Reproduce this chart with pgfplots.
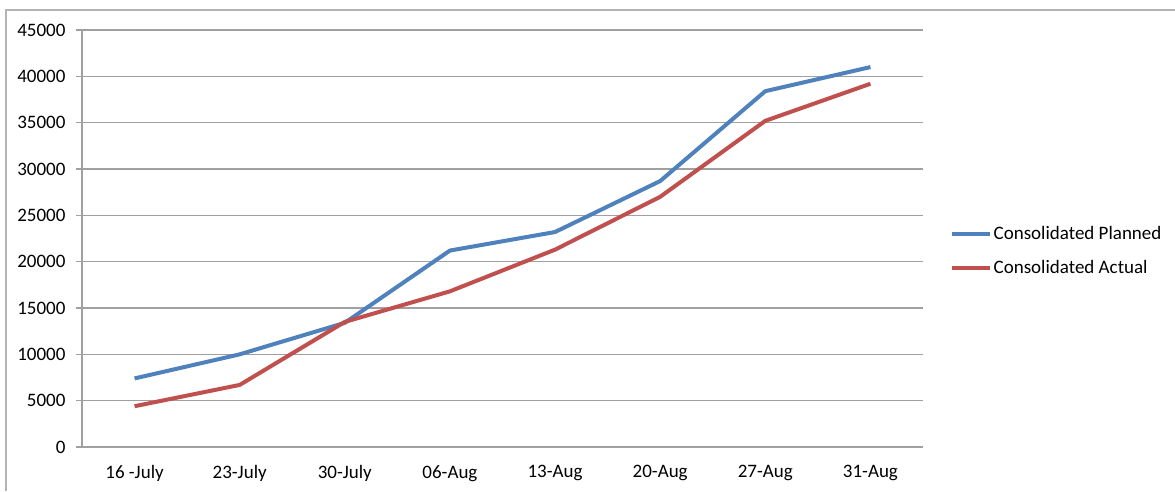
\documentclass[border=0pt]{standalone}
\usepackage{fontspec}
\setmainfont{Carlito}
\usepackage{pgfplots}
\pgfplotsset{compat=1.18}
\definecolor{cblue}{HTML}{4F81BD}
\definecolor{cred}{HTML}{C0504D}
\definecolor{cgrid}{HTML}{A0A0A0}
\begin{document}
\fontsize{19}{23}\selectfont
\begin{tikzpicture}
\useasboundingbox (0,0) rectangle (1175pt,-491pt);
\draw[cgrid!80, line width=1.5pt] (6pt,-491pt) -- (6pt,-10pt) -- (1175pt,-10pt);
\begin{axis}[
  at={(82pt,-447pt)}, anchor=south west,
  scale only axis, width=841pt, height=417pt,
  xmin=-0.5, xmax=7.5, ymin=0, ymax=45000,
  axis lines=left, axis line style={-, cgrid, line width=1.2pt},
  xtick={0,...,7},
  xticklabels={16 -July,23-July,30-July,06-Aug,13-Aug,20-Aug,27-Aug,31-Aug},
  minor xtick={-0.5,0.5,...,7.5},
  major tick length=6pt,
  minor tick length=6pt,
  tick align=outside,
  xtick style={draw=none},
  ytick={0,5000,...,45000},
  scaled y ticks=false,
  ymajorgrids, grid style={cgrid, line width=1.2pt},
  ytick style={cgrid, line width=1.2pt},
  minor tick style={cgrid, line width=1.2pt},
  y tick label style={/pgf/number format/fixed, /pgf/number format/1000 sep={}},
  /pgf/number format/assume math mode=true,
  yticklabel style={xshift=-4pt},
  xticklabel style={yshift=-6pt},
  tick label style={font=\fontsize{19}{23}\selectfont},
  legend style={at={(1.0315,0.47)}, anchor=west, draw=none, fill=none,
    font=\fontsize{19}{23}\selectfont, row sep=14pt, inner sep=0pt},
  legend cell align=left,
  legend image code/.code={\draw[#1] (0pt,0pt) -- (38pt,0pt);},
  every axis plot/.append style={line width=4pt, line join=round},
]
\addplot[cblue, mark=none] coordinates {(0,7400) (1,10000) (2,13400) (3,21200) (4,23200) (5,28700) (6,38400) (7,41000)};
\addlegendentry{Consolidated Planned}
\addplot[cred, mark=none] coordinates {(0,4400) (1,6700) (2,13500) (3,16800) (4,21300) (5,27000) (6,35200) (7,39200)};
\addlegendentry{Consolidated Actual}
\end{axis}
\end{tikzpicture}
\end{document}
